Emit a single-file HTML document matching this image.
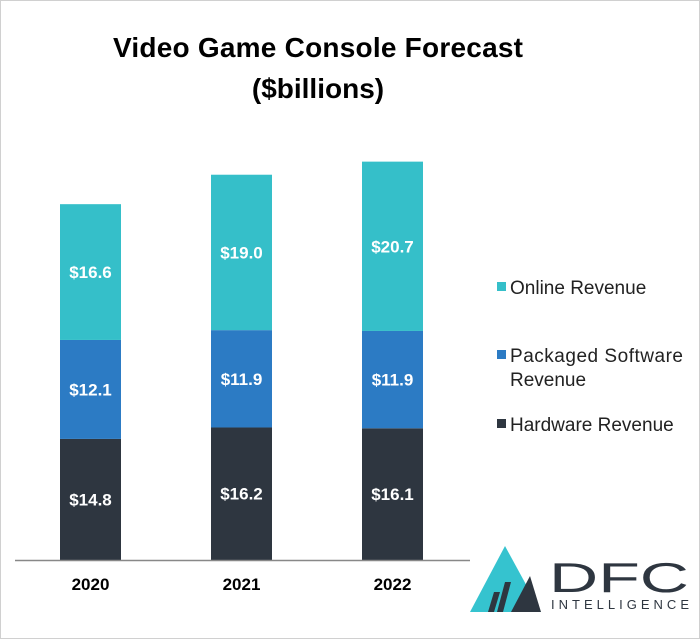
<!DOCTYPE html>
<html><head><meta charset="utf-8"><style>
body{margin:0;background:#fff}
svg{display:block;font-family:"Liberation Sans",sans-serif}
</style></head><body>
<svg width="700" height="639" viewBox="0 0 700 639">
<rect x="0.5" y="0.5" width="699" height="638" fill="#fff" stroke="#d0d0d0"/>
<text x="318" y="57" text-anchor="middle" font-size="28" font-weight="bold" fill="#000" textLength="410">Video Game Console Forecast</text>
<text x="318" y="98" text-anchor="middle" font-size="28" font-weight="bold" fill="#000">($billions)</text>
<g id="bars"></g>
<line x1="15" y1="560.5" x2="470" y2="560.5" stroke="#888" stroke-width="1.5"/>
<g id="legend" font-size="19" fill="#222">
<rect x="497" y="282" width="9" height="9" fill="#35BFC9"/>
<text x="510" y="294">Online Revenue</text>
<rect x="497" y="350" width="9" height="9" fill="#2C7BC4"/>
<text x="510" y="362" textLength="173">Packaged Software</text>
<text x="510" y="386">Revenue</text>
<rect x="497" y="419" width="9" height="9" fill="#2E3640"/>
<text x="510" y="431">Hardware Revenue</text>
</g>
<g>
<polygon points="470,612 505,546 541,612" fill="#35C3CF"/>
<polygon points="511,612 530,576 541,612" fill="#2E3640"/>
<polygon points="488,612 494,592 500,592 494,612" fill="#2E3640"/>
<polygon points="497,612 505,582 511,582 503,612" fill="#2E3640"/>
<text x="549" y="592" font-size="42" fill="#2E3640" textLength="140" lengthAdjust="spacingAndGlyphs">DFC</text>
<text x="551" y="609" font-size="13" fill="#2E3640" textLength="138">INTELLIGENCE</text>
</g>
</svg>
<script>
const years=["2020","2021","2022"];
const hardware=[14.8,16.2,16.1];
const software=[12.1,11.9,11.9];
const online=[16.6,19.0,20.7];
const NS="http://www.w3.org/2000/svg";
const base=560, pxPerUnit=8.18;
const y=v=>base-v*pxPerUnit;
const x=i=>60+i*151;
const bw=61;
const g=document.getElementById('bars');
function mk(t,a){const e=document.createElementNS(NS,t);for(const k in a)e.setAttribute(k,a[k]);g.appendChild(e);return e;}
const series=[[hardware,"#2E3640","hardware"],[software,"#2C7BC4","software"],[online,"#35BFC9","online"]];
years.forEach((yr,i)=>{
 let cum=0;
 series.forEach(([arr,col,nm])=>{
  const v=arr[i];
  const r=mk('rect',{x:x(i),y:y(cum+v),width:bw,height:v*pxPerUnit,fill:col});
  
  
  const t=mk('text',{x:x(i)+bw/2,y:y(cum+v/2)+6,'text-anchor':'middle','font-size':'17','font-weight':'bold',fill:'#fff'});
  t.textContent='$'+v.toFixed(1);
  
  
  cum+=v;
 });
 const l=mk('text',{x:x(i)+bw/2,y:590,'text-anchor':'middle','font-size':'17','font-weight':'bold',fill:'#000'});
 l.textContent=yr;
 
 
});
</script>
</body></html>
